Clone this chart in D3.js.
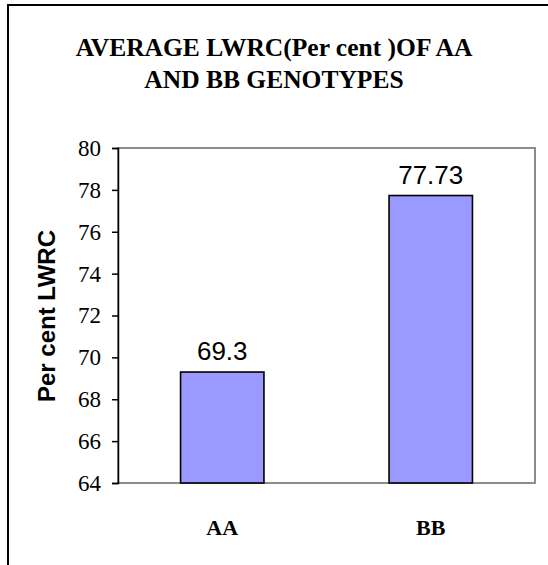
<!DOCTYPE html>
<html>
<head>
<meta charset="utf-8">
<script src="https://cdn.jsdelivr.net/npm/d3@7"></script>
<style>
  html, body { margin: 0; padding: 0; background: #fff; }
  svg { display: block; }
</style>
</head>
<body>
<svg id="chart" width="548" height="565"></svg>
<script>
// Genotype averages of LWRC (per cent)
const genotypes = ["AA", "BB"];
const lwrcValues = [69.3, 77.73];
const valueLabels = ["69.3", "77.73"];
const yTicks = [64, 66, 68, 70, 72, 74, 76, 78, 80];
const titleLines = ["AVERAGE LWRC(Per cent )OF AA", "AND BB GENOTYPES"];
const yTitle = "Per cent LWRC";

const serif = "'Liberation Serif', 'Times New Roman', serif";
const sans = "'Liberation Sans', Arial, sans-serif";

const svg = d3.select("#chart");
const plot = { left: 118, top: 148, right: 535, bottom: 483 };

// chart frame (left and top edges)
svg.append("path")
  .attr("d", `M8,565 V5 H548`)
  .attr("fill", "none").attr("stroke", "#000").attr("stroke-width", 2);

// title
const title = svg.append("text")
  .attr("text-anchor", "middle")
  .style("font-family", serif)
  .attr("font-weight", "bold").attr("font-size", 25.5);
titleLines.forEach((t, i) => {
  title.append("tspan").attr("x", 274).attr("y", 56 + i * 32).text(t);
});

const x = d3.scaleBand().domain(genotypes).range([plot.left, plot.right]).padding(0);
const y = d3.scaleLinear().domain([64, 80]).range([plot.bottom, plot.top]);
const barW = x.bandwidth() * 0.4;

// plot area border (grey)
svg.append("rect")
  .attr("x", plot.left).attr("y", plot.top)
  .attr("width", plot.right - plot.left).attr("height", plot.bottom - plot.top)
  .attr("fill", "none").attr("stroke", "#8c8c8c").attr("stroke-width", 2);

// bars
svg.selectAll("rect.bar").data(genotypes).join("rect")
  .attr("class", "bar")
  .attr("x", d => x(d) + (x.bandwidth() - barW) / 2)
  .attr("y", (d, i) => y(lwrcValues[i]))
  .attr("width", barW)
  .attr("height", (d, i) => y(64) - y(lwrcValues[i]))
  .attr("fill", "#9999ff").attr("stroke", "#000").attr("stroke-width", 1.6);

// value labels
svg.selectAll("text.val").data(genotypes).join("text")
  .attr("class", "val")
  .attr("x", d => x(d) + x.bandwidth() / 2)
  .attr("y", (d, i) => y(lwrcValues[i]) - 12)
  .attr("text-anchor", "middle")
  .style("font-family", sans)
  .attr("font-size", 26)
  .text((d, i) => valueLabels[i]);

// y axis
const yAxis = svg.append("g")
  .attr("transform", `translate(${plot.left},0)`)
  .call(d3.axisLeft(y).tickValues(yTicks).tickSize(6).tickPadding(11).tickFormat(d3.format("d")));
yAxis.attr("font-family", null).attr("font-size", null);
yAxis.select(".domain").attr("stroke", "#000").attr("stroke-width", 1.5);
yAxis.selectAll(".tick line").attr("stroke", "#000").attr("stroke-width", 1.5);
yAxis.selectAll(".tick text")
  .style("font-family", serif)
  .style("font-size", "23px").attr("fill", "#000");

// x category labels
svg.selectAll("text.cat").data(genotypes).join("text")
  .attr("class", "cat")
  .attr("x", d => x(d) + x.bandwidth() / 2)
  .attr("y", 535)
  .attr("text-anchor", "middle")
  .style("font-family", serif)
  .attr("font-weight", "bold").attr("font-size", 22)
  .text(d => d);

// y axis title
svg.append("text")
  .attr("transform", `translate(55,316) rotate(-90)`)
  .attr("text-anchor", "middle")
  .style("font-family", sans)
  .attr("font-weight", "bold").attr("font-size", 24)
  .text(yTitle);
</script>
</body>
</html>
